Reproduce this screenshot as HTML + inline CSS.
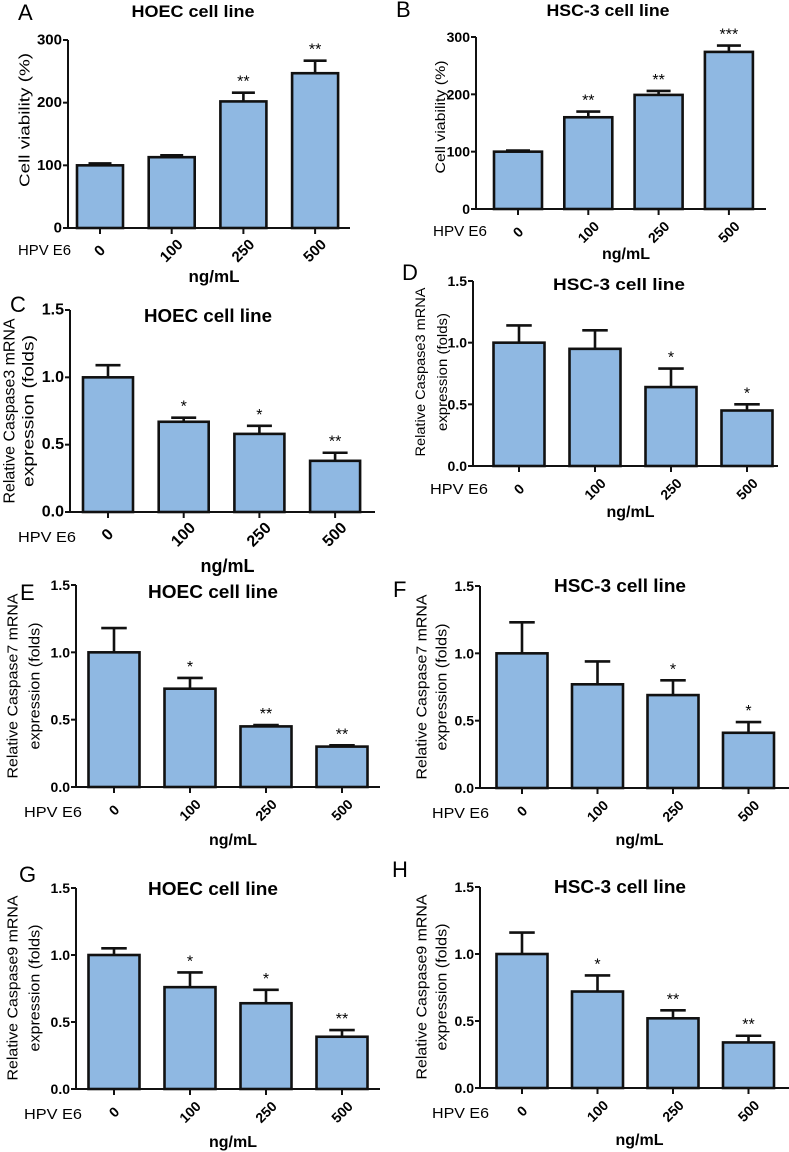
<!DOCTYPE html>
<html><head><meta charset="utf-8"><style>
html,body{margin:0;padding:0;background:#fff;}
svg{display:block;font-family:"Liberation Sans",Arial,sans-serif;}
</style></head><body>
<svg id="fig" width="789" height="1152" viewBox="0 0 789 1152" xmlns="http://www.w3.org/2000/svg"></svg>
<script>
// ---- data ----
const categories = ["0","100","250","500"];
const meanA = [100,113,202,247], errA = [3,3,14,20], sigA = ["","","**","**"];
const meanB = [100,160,199,274], errB = [2,10,7,11], sigB = ["","**","**","***"];
const meanC = [1.0,0.67,0.58,0.38], errC = [0.09,0.03,0.06,0.06], sigC = ["","*","*","**"];
const meanD = [1.0,0.95,0.64,0.45], errD = [0.14,0.15,0.15,0.05], sigD = ["","","*","*"];
const meanE = [1.0,0.73,0.45,0.30], errE = [0.18,0.08,0.01,0.01], sigE = ["","*","**","**"];
const meanF = [1.0,0.77,0.69,0.41], errF = [0.23,0.17,0.11,0.08], sigF = ["","","*","*"];
const meanG = [1.0,0.76,0.64,0.39], errG = [0.05,0.11,0.10,0.05], sigG = ["","*","*","**"];
const meanH = [1.0,0.72,0.52,0.34], errH = [0.16,0.12,0.06,0.05], sigH = ["","*","**","**"];
const ticksViab = [0,100,200,300], tickLabViab = ["0","100","200","300"];
const ticksFold = [0,0.5,1.0,1.5], tickLabFold = ["0.0","0.5","1.0","1.5"];

// ---- layout ----
const NS = "http://www.w3.org/2000/svg";
const svg = document.getElementById('fig');
function mk(tag, attrs, parent, txt){
  const e = document.createElementNS(NS, tag);
  for (const k in attrs) e.setAttribute(k, attrs[k]);
  if (txt !== undefined) e.textContent = txt;
  (parent || svg).appendChild(e);
  return e;
}
const panels = [
 {id:'a',letter:'A',lx:18,ly:20,mean:meanA,err:errA,sig:sigA,ticks:ticksViab,tl:tickLabViab,ymax:300,ax:68,y0:228,yt:40,c0:100,step:71.7,bw:46,xe:350,
  title:'HOEC cell line',tx:193,ty:17,tw:123,tfs:17,yl:['Cell viability (%)'],ylx:[25],ylc:120,yll:[134],ylfs:15,tfsT:15,hx:18,hy:255,hw:53,ngy:282,tickOff:23,rfs:15},
 {id:'b',letter:'B',lx:396,ly:17,mean:meanB,err:errB,sig:sigB,ticks:ticksViab,tl:tickLabViab,ymax:300,ax:476,y0:209,yt:37,c0:518,step:70.3,bw:48,xe:766,
  title:'HSC-3 cell line',tx:608,ty:16,tw:123,tfs:17,yl:['Cell viability (%)'],ylx:[440],ylc:117,yll:[113],ylfs:14,tfsT:14,hx:433,hy:236,hw:54,ngy:259,tickOff:23,rfs:14},
 {id:'c',letter:'C',lx:10,ly:312,mean:meanC,err:errC,sig:sigC,ticks:ticksFold,tl:tickLabFold,ymax:1.5,ax:70,y0:512,yt:310,c0:108,step:75.7,bw:50,xe:375,
  title:'HOEC cell line',tx:208,ty:322,tw:128,tfs:18,yl:['Relative Caspase3 mRNA','expression (folds)'],ylx:[10,29],ylc:411,yll:[185,152],ylfs:16,tfsT:16,hx:18,hy:542,hw:58,ngy:572,tickOff:23,rfs:16},
 {id:'d',letter:'D',lx:402,ly:280,mean:meanD,err:errD,sig:sigD,ticks:ticksFold,tl:tickLabFold,ymax:1.5,ax:473,y0:466,yt:281,c0:519,step:76,bw:51,xe:778,
  title:'HSC-3 cell line',tx:619,ty:290,tw:132,tfs:17,yl:['Relative Caspase3 mRNA','expression (folds)'],ylx:[420,442],ylc:372,yll:[169,118],ylfs:14,tfsT:14,hx:430,hy:494,hw:58,ngy:517,tickOff:23,rfs:14},
 {id:'e',letter:'E',lx:20,ly:600,mean:meanE,err:errE,sig:sigE,ticks:ticksFold,tl:tickLabFold,ymax:1.5,ax:76,y0:787,yt:585,c0:114,step:76,bw:51,xe:380,
  title:'HOEC cell line',tx:213,ty:598,tw:130,tfs:18,yl:['Relative Caspase7 mRNA','expression (folds)'],ylx:[13,35],ylc:686,yll:[185,127],ylfs:15,tfsT:14,hx:24,hy:817,hw:58,ngy:845,tickOff:23,rfs:14},
 {id:'f',letter:'F',lx:393,ly:597,mean:meanF,err:errF,sig:sigF,ticks:ticksFold,tl:tickLabFold,ymax:1.5,ax:480,y0:788,yt:586,c0:522,step:75.5,bw:51,xe:789,
  title:'HSC-3 cell line',tx:620,ty:592,tw:132,tfs:18,yl:['Relative Caspase7 mRNA','expression (folds)'],ylx:[422,442],ylc:687,yll:[185,127],ylfs:15,tfsT:14,hx:432,hy:818,hw:57,ngy:845,tickOff:23,rfs:14},
 {id:'g',letter:'G',lx:19,ly:882,mean:meanG,err:errG,sig:sigG,ticks:ticksFold,tl:tickLabFold,ymax:1.5,ax:76,y0:1089,yt:888,c0:114,step:76,bw:51,xe:380,
  title:'HOEC cell line',tx:213,ty:895,tw:130,tfs:18,yl:['Relative Caspase9 mRNA','expression (folds)'],ylx:[13,35],ylc:988,yll:[185,127],ylfs:15,tfsT:14,hx:24,hy:1119,hw:58,ngy:1147,tickOff:23,rfs:14},
 {id:'h',letter:'H',lx:392,ly:877,mean:meanH,err:errH,sig:sigH,ticks:ticksFold,tl:tickLabFold,ymax:1.5,ax:480,y0:1088,yt:887,c0:522,step:75.5,bw:51,xe:789,
  title:'HSC-3 cell line',tx:620,ty:893,tw:132,tfs:18,yl:['Relative Caspase9 mRNA','expression (folds)'],ylx:[422,442],ylc:987,yll:[185,127],ylfs:15,tfsT:14,hx:432,hy:1118,hw:57,ngy:1145,tickOff:23,rfs:14}
];

panels.forEach(p => {
  const g = mk('g', {});
  
  
  const yS = v => p.y0 - (v / p.ymax) * (p.y0 - p.yt);
  const xS = i => p.c0 + i * p.step;

  const L = mk('text', {x:p.lx, y:p.ly, 'font-size':22}, g, p.letter);
  
  

  const T = mk('text', {x:p.tx, y:p.ty, 'font-size':p.tfs, 'font-weight':'bold', 'text-anchor':'middle', textLength:p.tw, lengthAdjust:'spacingAndGlyphs'}, g, p.title);
  
  

  p.yl.forEach((s, k) => {
    const Y = mk('text', {x:p.ylx[k], y:p.ylc, 'font-size':p.ylfs, 'text-anchor':'middle', 'dominant-baseline':'central',
      transform:`rotate(-90 ${p.ylx[k]} ${p.ylc})`, textLength:p.yll[k], lengthAdjust:'spacingAndGlyphs'}, g, s);
    
    
  });

  // bars
  p.mean.forEach((v, i) => {
    const cx = xS(i);
    const b = mk('rect', {x:cx - p.bw/2, y:yS(v), width:p.bw, height:p.y0 - yS(v), fill:'#8fb8e2', stroke:'#111', 'stroke-width':2.6}, g);
    
    
    const top = yS(v + p.err[i]);
    const e = mk('path', {d:`M${cx} ${yS(v)} V${top} M${cx - p.bw/4} ${top} H${cx + p.bw/4}`, stroke:'#111', 'stroke-width':2.6, fill:'none'}, g);
    
    
    if (p.sig[i]) {
      const s = mk('text', {x:cx, y:top - 6, 'font-size':16, 'text-anchor':'middle'}, g, p.sig[i]);
      
      
    }
  });

  // axes
  const ya = mk('path', {d:`M${p.ax} ${p.yt} V${p.y0}`, stroke:'#111', 'stroke-width':2, fill:'none'}, g);
  
  
  const xa = mk('path', {d:`M${p.ax} ${p.y0} H${p.xe}`, stroke:'#111', 'stroke-width':2, fill:'none'}, g);
  
  

  p.ticks.forEach((t, k) => {
    const y = yS(t);
    mk('path', {d:`M${p.ax - 5} ${y} H${p.ax}`, stroke:'#111', 'stroke-width':2}, g);
    const tl = mk('text', {x:p.ax - 6, y:y, 'font-size':p.tfsT, 'font-weight':'bold', 'text-anchor':'end', 'dominant-baseline':'central'}, g, p.tl[k]);
    
    
  });

  categories.forEach((c, i) => {
    const x = xS(i);
    mk('path', {d:`M${x} ${p.y0} V${p.y0 + 6}`, stroke:'#111', 'stroke-width':2}, g);
    const ty = p.y0 + p.tickOff;
    const t = mk('text', {x:x, y:ty, 'font-size':p.rfs, 'font-weight':'bold', 'text-anchor':'middle', 'dominant-baseline':'central',
      transform:`rotate(-45 ${x} ${ty})`}, g, c);
    
    
  });

  const h = mk('text', {x:p.hx, y:p.hy, 'font-size':15, textLength:p.hw, lengthAdjust:'spacingAndGlyphs'}, g, 'HPV E6');
  
  
  const n = mk('text', {x:(p.ax + p.xe)/2 + 5, y:p.ngy, 'font-size':p.rfs + 2, 'font-weight':'bold', 'text-anchor':'middle'}, g, 'ng/mL');
  
  
});
</script>
</body></html>
